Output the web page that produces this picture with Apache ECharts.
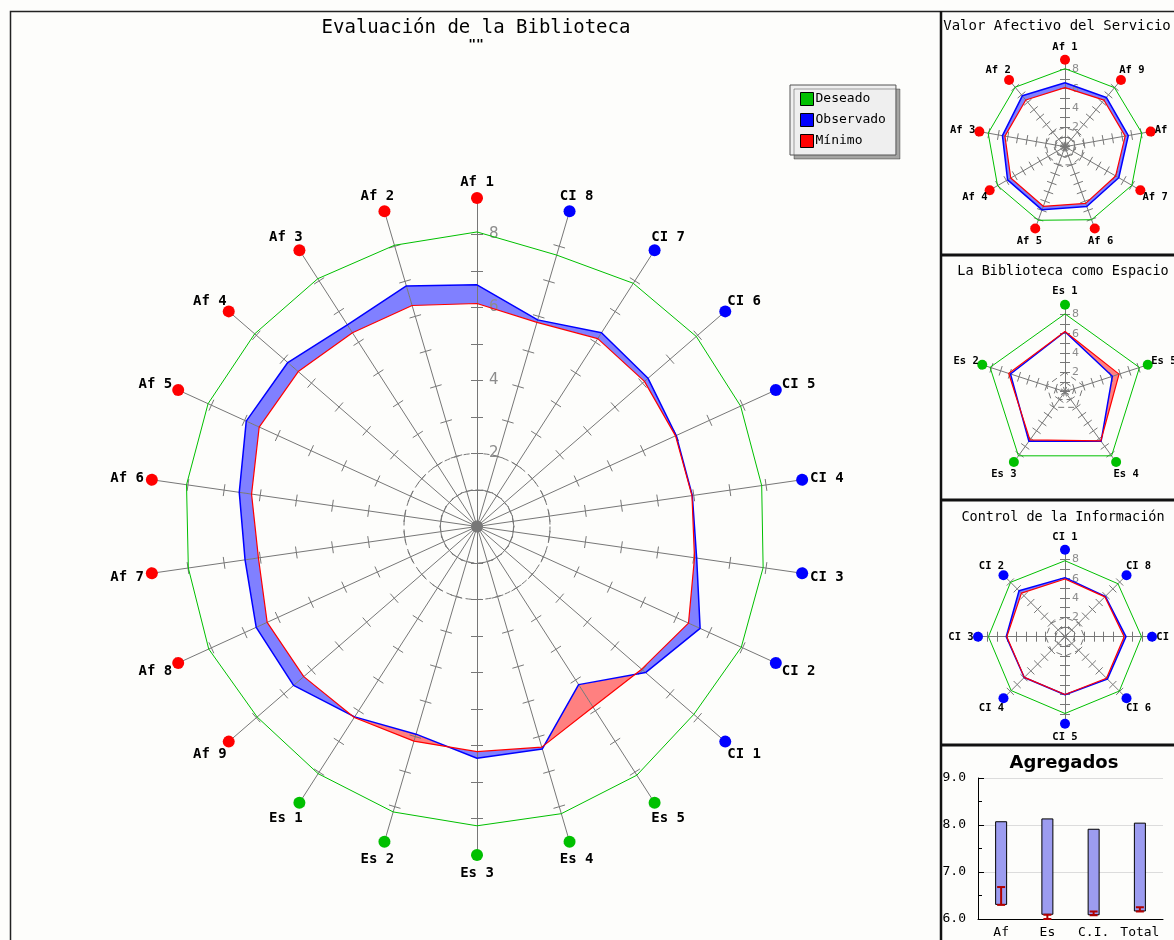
<!DOCTYPE html>
<html>
<head>
<meta charset="utf-8">
<script src="https://cdn.jsdelivr.net/npm/echarts@6/dist/echarts.min.js"></script>
<style>
  html, body { margin: 0; padding: 0; background: #fdfdfb; }
  #chart { width: 1174px; height: 940px; }
</style>
</head>
<body>
<div id="chart"></div>
<script>
// valores
const afNames = ['Af 1', 'Af 2', 'Af 3', 'Af 4', 'Af 5', 'Af 6', 'Af 7', 'Af 8', 'Af 9'];
const esNames = ['Es 1', 'Es 2', 'Es 3', 'Es 4', 'Es 5'];
const ciNames = ['CI 1', 'CI 2', 'CI 3', 'CI 4', 'CI 5', 'CI 6', 'CI 7', 'CI 8'];

const afDeseado   = [8.07, 8.03, 8.07, 8.06, 8.10, 8.04, 7.99, 8.08, 7.97];
const afObservado = [6.62, 6.87, 6.57, 6.86, 6.95, 6.58, 6.42, 6.65, 6.65];
const afMinimo    = [6.11, 6.31, 6.31, 6.48, 6.56, 6.24, 6.05, 6.32, 6.28];

const esDeseado   = [8.05, 8.15, 8.20, 8.20, 8.10];
const esObservado = [6.20, 5.93, 6.35, 6.35, 5.15];
const esMinimo    = [6.22, 6.13, 6.17, 6.30, 5.88];

const ciDeseado   = [7.86, 7.96, 7.92, 7.88, 7.94, 7.95, 7.92, 7.75];
const ciObservado = [6.11, 6.72, 6.08, 5.96, 6.00, 6.20, 6.31, 5.90];
const ciMinimo    = [5.97, 6.37, 6.02, 5.95, 5.98, 6.07, 6.12, 5.83];

const aggCats      = ['Af', 'Es', 'C.I.', 'Total'];
const aggDeseado   = [8.08, 8.14, 7.92, 8.05];
const aggMinimo    = [6.30, 6.09, 6.08, 6.16];
const aggObservado = [6.68, 6.00, 6.16, 6.25];

const MONO = '"DejaVu Sans Mono", "Liberation Mono", monospace';
const SANS = '"DejaVu Sans", sans-serif';
const GREEN = '#00c000', BLUE = '#0000ff', RED = '#ff0000';
const BLUE_FILL = '#8080ff', RED_FILL = '#ff8080';
const GRID = '#777777';

const radars = [], polars = [], angleAxes = [], radiusAxes = [], series = [];

function segCross(a, b, c, d) {
  const r1x = b[0] - a[0], r1y = b[1] - a[1];
  const r2x = d[0] - c[0], r2y = d[1] - c[1];
  const den = r1x * r2y - r1y * r2x;
  if (Math.abs(den) < 1e-9) return [(a[0] + c[0]) / 2, (a[1] + c[1]) / 2];
  const t = ((c[0] - a[0]) * r2y - (c[1] - a[1]) * r2x) / den;
  return [a[0] + t * r1x, a[1] + t * r1y];
}

// relleno entre Observado y Minimo, sector por sector
function bandRender(obs, min) {
  const n = obs.length;
  return function (params, api) {
    const i = api.value(0);
    const j = (i + 1) % n;
    const ai = i * 360 / n, aj = (i + 1) * 360 / n;
    const Bi = api.coord([obs[i], ai]), Bj = api.coord([obs[j], aj]);
    const Ri = api.coord([min[i], ai]), Rj = api.coord([min[j], aj]);
    const di = obs[i] - min[i], dj = obs[j] - min[j];
    const col = d => d >= 0 ? BLUE_FILL : RED_FILL;
    const children = [];
    if (di * dj >= 0) {
      const d = Math.abs(di) >= Math.abs(dj) ? di : dj;
      children.push({type: 'polygon', shape: {points: [Ri, Bi, Bj, Rj]}, style: {fill: col(d)}});
    } else {
      const X = segCross(Bi, Bj, Ri, Rj);
      children.push({type: 'polygon', shape: {points: [Ri, Bi, X]}, style: {fill: col(di)}});
      children.push({type: 'polygon', shape: {points: [X, Bj, Rj]}, style: {fill: col(dj)}});
    }
    return {type: 'group', children: children};
  };
}

function addRadar(cfg) {
  const n = cfg.names.length;
  const r0 = radars.length;
  const p0 = polars.length;
  const labelFmt = v => (v > 0 && v < 9 && v % 2 === 0) ? String(v) : '';
  const common = {center: cfg.center, radius: cfg.radius, startAngle: 90, splitNumber: 9, shape: 'polygon', z: 3,
    splitLine: {show: false}, splitArea: {show: false}, axisName: {show: false}};
  radars.push(Object.assign({}, common, {
    indicator: cfg.names.map((name, i) => i === 0
      ? {name: '', min: 0, max: 9, axisLabel: {show: true, color: '#8c8c8c', fontFamily: SANS,
          fontSize: cfg.labelSize, margin: -cfg.labelMargin, align: 'left', formatter: labelFmt}}
      : {name: '', min: 0, max: 9}),
    axisLine: {lineStyle: {color: GRID, width: 1}},
    axisTick: {show: true, length: cfg.tick, lineStyle: {color: GRID}},
    axisLabel: {show: false}
  }));
  // mismas marcas hacia el otro lado del eje
  radars.push(Object.assign({}, common, {
    indicator: cfg.names.map(() => ({name: '', min: 0, max: 9})),
    axisLine: {show: false},
    axisTick: {show: true, length: -cfg.tick, lineStyle: {color: GRID}},
    axisLabel: {show: false}
  }));
  radars.push({
    center: cfg.center, radius: cfg.radius * 2 / 9, startAngle: 90, splitNumber: 2, shape: cfg.ring, z: 3,
    axisName: {show: false},
    indicator: cfg.names.map(() => ({name: '', min: 0, max: 2})),
    axisLine: {show: false}, axisTick: {show: false}, axisLabel: {show: false},
    splitArea: {show: false},
    splitLine: {show: true, lineStyle: {color: GRID, type: [6, 4]}}
  });
  polars.push({center: cfg.center, radius: [0, cfg.radius]});
  angleAxes.push({polarIndex: p0, type: 'value', min: 0, max: 360, startAngle: 90, clockwise: false, show: false});
  radiusAxes.push({polarIndex: p0, type: 'value', min: 0, max: 9, show: false});

  series.push({
    type: 'custom', coordinateSystem: 'polar', polarIndex: p0, z: 1, silent: true,
    renderItem: bandRender(cfg.obs, cfg.min),
    data: cfg.names.map((_, i) => [i])
  });
  series.push({
    type: 'radar', radarIndex: r0, z: 5, symbol: 'none', silent: true,
    data: [{name: 'Deseado', value: cfg.des, lineStyle: {color: GREEN, width: 1}, itemStyle: {color: GREEN}}]
  });
  series.push({
    type: 'radar', radarIndex: r0, z: 5, symbol: 'none', silent: true,
    data: [{name: 'Observado', value: cfg.obs, lineStyle: {color: BLUE, width: 1.5}, itemStyle: {color: BLUE}}]
  });
  series.push({
    type: 'radar', radarIndex: r0, z: 5, symbol: 'none', silent: true,
    data: [{name: 'Mínimo', value: cfg.min, lineStyle: {color: RED, width: 1.2}, itemStyle: {color: RED}}]
  });
  // marcadores al final de cada eje, con el nombre del item
  series.push({
    type: 'scatter', coordinateSystem: 'polar', polarIndex: p0, z: 4, silent: true,
    symbol: 'circle', symbolSize: cfg.marker,
    data: cfg.names.map((name, i) => {
      const th = (90 + i * 360 / n) * Math.PI / 180;
      return {
        name: name,
        value: [9, i * 360 / n],
        itemStyle: {color: cfg.colors[i], opacity: 1},
        label: {
          show: true, position: 'inside', formatter: name,
          offset: [cfg.lx * Math.cos(th), -cfg.ly * Math.sin(th) + cfg.ldy],
          color: '#000', fontFamily: MONO, fontWeight: 'bold', fontSize: cfg.nameSize
        }
      };
    })
  });
}

const allNames = afNames.concat(esNames, ciNames);
const allColors = afNames.map(() => RED).concat(esNames.map(() => GREEN), ciNames.map(() => BLUE));

addRadar({center: [477, 526.5], radius: 328.5, names: allNames, colors: allColors,
  des: afDeseado.concat(esDeseado, ciDeseado),
  obs: afObservado.concat(esObservado, ciObservado),
  min: afMinimo.concat(esMinimo, ciMinimo),
  lx: 25, ly: 17, ldy: 1.5, nameSize: 14, labelSize: 15, labelMargin: 12, tick: 6, ring: 'circle', marker: 12});
addRadar({center: [1065, 146.7], radius: 87, names: afNames, colors: afNames.map(() => RED),
  des: afDeseado, obs: afObservado, min: afMinimo,
  lx: 17, ly: 13, ldy: 0.5, nameSize: 10.5, labelSize: 11, labelMargin: 7, tick: 5, ring: 'polygon', marker: 10});
addRadar({center: [1065, 391.7], radius: 87, names: esNames, colors: esNames.map(() => GREEN),
  des: esDeseado, obs: esObservado, min: esMinimo,
  lx: 17, ly: 14, ldy: 0.5, nameSize: 10.5, labelSize: 11, labelMargin: 7, tick: 5, ring: 'polygon', marker: 10});
addRadar({center: [1065, 636.7], radius: 87, names: ciNames, colors: ciNames.map(() => BLUE),
  des: ciDeseado, obs: ciObservado, min: ciMinimo,
  lx: 17, ly: 13, ldy: 0.5, nameSize: 10.5, labelSize: 11, labelMargin: 7, tick: 5, ring: 'polygon', marker: 10});

// Agregados
series.push({
  type: 'bar', stack: 'agg', barWidth: 12, silent: true,
  data: aggMinimo, itemStyle: {color: 'rgba(0,0,0,0)'}
});
series.push({
  type: 'bar', stack: 'agg', barWidth: 12, silent: true,
  data: aggDeseado.map((v, i) => +(v - aggMinimo[i]).toFixed(3)),
  itemStyle: {color: '#9c9cf0', borderColor: '#000', borderWidth: 1}
});
series.push({
  type: 'custom', z: 6, silent: true,
  data: aggCats.map((c, i) => [i, Math.min(aggMinimo[i], aggObservado[i]), Math.max(aggMinimo[i], aggObservado[i])]),
  renderItem: function (params, api) {
    const lo = api.coord([api.value(0), api.value(1)]);
    const hi = api.coord([api.value(0), api.value(2)]);
    const st = {stroke: '#b00000', lineWidth: 2};
    return {type: 'group', children: [
      {type: 'line', shape: {x1: lo[0], y1: lo[1], x2: hi[0], y2: hi[1]}, style: st},
      {type: 'line', shape: {x1: lo[0] - 4, y1: lo[1], x2: lo[0] + 4, y2: lo[1]}, style: st},
      {type: 'line', shape: {x1: hi[0] - 4, y1: hi[1], x2: hi[0] + 4, y2: hi[1]}, style: st}
    ]};
  }
});

const chart = echarts.init(document.getElementById('chart'), null, {renderer: 'canvas'});
chart.setOption({
  animation: false,
  backgroundColor: '#fdfdfb',
  legend: {
    data: [{name: 'Deseado', icon: 'rect'}, {name: 'Observado', icon: 'rect'}, {name: 'Mínimo', icon: 'rect'}],
    orient: 'vertical', left: 790, top: 85,
    itemWidth: 13, itemHeight: 13, itemGap: 7,
    padding: [7, 10, 7, 10],
    backgroundColor: '#efefef', borderColor: '#555', borderWidth: 1,
    shadowColor: 'rgba(0,0,0,0.35)', shadowOffsetX: 4, shadowOffsetY: 4, shadowBlur: 0,
    textStyle: {fontFamily: MONO, fontSize: 13, color: '#000', padding: [0, 0, 0, -3]},
    itemStyle: {borderColor: '#000', borderWidth: 1},
    selectedMode: false
  },
  radar: radars,
  polar: polars,
  angleAxis: angleAxes,
  radiusAxis: radiusAxes,
  grid: {left: 978, top: 778, width: 185, height: 141, containLabel: false, outerBoundsMode: 'none'},
  xAxis: {
    type: 'category', data: aggCats,
    axisLine: {lineStyle: {color: '#000'}},
    axisTick: {alignWithLabel: true, length: 5, lineStyle: {color: '#000'}},
    axisLabel: {interval: 0, fontFamily: MONO, fontSize: 13, color: '#000', margin: 7}
  },
  yAxis: {
    type: 'value', min: 6, max: 9, interval: 1,
    axisLine: {show: true, lineStyle: {color: '#000'}},
    axisTick: {show: true, inside: true, length: 6, lineStyle: {color: '#000'}},
    minorTick: {show: true, splitNumber: 2, length: 4, lineStyle: {color: '#000'}},
    splitLine: {lineStyle: {color: '#dcdcdc'}},
    axisLabel: {formatter: v => v.toFixed(1), fontFamily: MONO, fontSize: 13, color: '#000', margin: 12}
  },
  graphic: [
    {type: 'text', z: 100, silent: true, style: {x: 476, y: 28, text: 'Evaluación de la Biblioteca', align: 'center', verticalAlign: 'middle', font: '19px ' + MONO, fill: '#000'}},
    {type: 'text', z: 100, silent: true, style: {x: 476, y: 45, text: '""', align: 'center', verticalAlign: 'middle', font: 'bold 13px ' + MONO, fill: '#000'}},
    {type: 'text', z: 100, silent: true, style: {x: 1057, y: 26, text: 'Valor Afectivo del Servicio', align: 'center', verticalAlign: 'middle', font: '14px ' + MONO, fill: '#000'}},
    {type: 'text', z: 100, silent: true, style: {x: 1063, y: 271, text: 'La Biblioteca como Espacio', align: 'center', verticalAlign: 'middle', font: '13.5px ' + MONO, fill: '#000'}},
    {type: 'text', z: 100, silent: true, style: {x: 1063, y: 517, text: 'Control de la Información', align: 'center', verticalAlign: 'middle', font: '13.5px ' + MONO, fill: '#000'}},
    {type: 'text', z: 100, silent: true, style: {x: 1064, y: 763, text: 'Agregados', align: 'center', verticalAlign: 'middle', font: 'bold 18px ' + SANS, fill: '#000'}},
    {type: 'rect', z: 100, silent: true, shape: {x: 10.5, y: 11.5, width: 1200, height: 1000}, style: {fill: 'none', stroke: '#222', lineWidth: 1.5}},
    {type: 'line', z: 100, silent: true, shape: {x1: 941, y1: 11, x2: 941, y2: 940}, style: {stroke: '#111', lineWidth: 2.5}},
    {type: 'line', z: 100, silent: true, shape: {x1: 941, y1: 255, x2: 1174, y2: 255}, style: {stroke: '#111', lineWidth: 3}},
    {type: 'line', z: 100, silent: true, shape: {x1: 941, y1: 500, x2: 1174, y2: 500}, style: {stroke: '#111', lineWidth: 3}},
    {type: 'line', z: 100, silent: true, shape: {x1: 941, y1: 745, x2: 1174, y2: 745}, style: {stroke: '#111', lineWidth: 3}}
  ],
  series: series
});
</script>
</body>
</html>
